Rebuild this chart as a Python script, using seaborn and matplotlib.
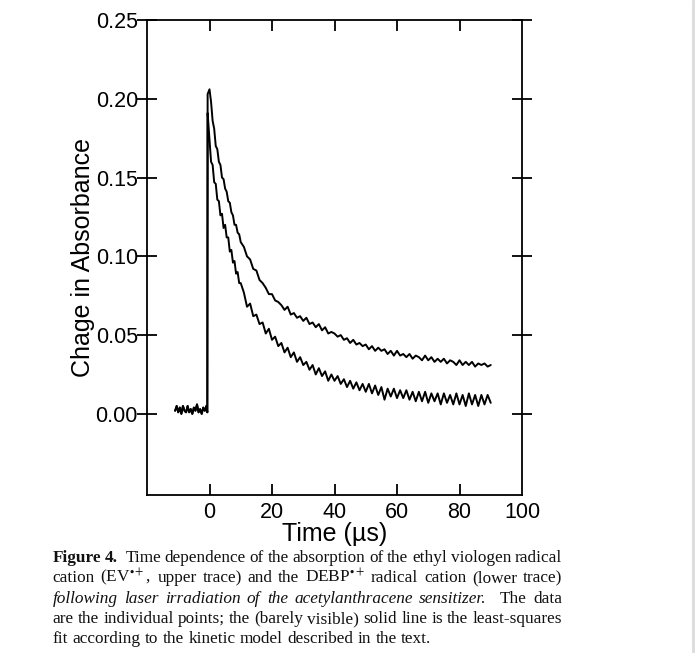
import matplotlib
matplotlib.use("Agg")
import matplotlib.pyplot as plt
import seaborn as sns
import pandas as pd

# ---------------- data ----------------
base_t = [-11.0, -10.5, -10.0, -9.5, -9.0, -8.5, -8.0, -7.5, -7.0, -6.5, -6.0,
          -5.5, -5.0, -4.5, -4.0, -3.5, -3.0, -2.5, -2.0, -1.5, -1.0, -0.7]
base_y = [0.002, 0.005, 0.001, 0.004, 0.000, 0.005, 0.002, 0.001, 0.005, 0.001, 0.003,
          0.000, 0.004, 0.002, 0.006, 0.001, 0.003, 0.000, 0.004, 0.002, 0.005, 0.001]

peak_t = [-0.6]
peak_upper = [0.203]
peak_lower = [0.191]

decay_t = [0.0, 0.5, 1.0, 1.5, 2.0, 2.5, 3.0, 3.5, 4.0, 4.5, 5.0, 5.5, 6.0, 6.5, 7.0,
           7.5, 8.0, 8.5, 9.0, 9.5, 10.0,
           11, 12, 13, 14, 15, 16, 17, 18, 19, 20,
           21, 22, 23, 24, 25, 26, 27, 28, 29, 30,
           31, 32, 33, 34, 35, 36, 37, 38, 39, 40,
           41, 42, 43, 44, 45, 46, 47, 48, 49, 50,
           51, 52, 53, 54, 55, 56, 57, 58, 59, 60,
           61, 62, 63, 64, 65, 66, 67, 68, 69, 70,
           71, 72, 73, 74, 75, 76, 77, 78, 79, 80,
           81, 82, 83, 84, 85, 86, 87, 88, 89, 90]

# EV radical cation (upper trace)
upper_decay = [0.206, 0.198, 0.186, 0.181, 0.170, 0.168, 0.160, 0.158, 0.150, 0.149,
               0.143, 0.141, 0.135, 0.134, 0.128, 0.126, 0.120, 0.120, 0.115, 0.114, 0.109,
               0.106, 0.100, 0.098, 0.092, 0.091, 0.085, 0.083, 0.080, 0.076, 0.076,
               0.072, 0.071, 0.069, 0.066, 0.068, 0.063, 0.064, 0.061, 0.062, 0.059,
               0.061, 0.057, 0.058, 0.055, 0.057, 0.053, 0.055, 0.051, 0.052, 0.051,
               0.049, 0.050, 0.047, 0.048, 0.045, 0.047, 0.044, 0.045, 0.043, 0.044,
               0.041, 0.043, 0.040, 0.042, 0.040, 0.041, 0.038, 0.040, 0.037, 0.040,
               0.037, 0.038, 0.036, 0.038, 0.035, 0.037, 0.036, 0.034, 0.037, 0.034,
               0.036, 0.033, 0.035, 0.033, 0.035, 0.032, 0.034, 0.033, 0.031, 0.034,
               0.031, 0.033, 0.031, 0.033, 0.030, 0.032, 0.031, 0.032, 0.030, 0.031]

# DEBP radical cation (lower trace)
lower_decay = [0.174, 0.160, 0.158, 0.147, 0.146, 0.136, 0.135, 0.126, 0.127, 0.118,
               0.120, 0.112, 0.112, 0.103, 0.104, 0.096, 0.097, 0.089, 0.090, 0.083, 0.083,
               0.077, 0.068, 0.070, 0.062, 0.063, 0.057, 0.058, 0.051, 0.054, 0.047,
               0.049, 0.043, 0.045, 0.039, 0.042, 0.036, 0.039, 0.033, 0.036, 0.031,
               0.033, 0.028, 0.031, 0.025, 0.029, 0.024, 0.027, 0.021, 0.025, 0.021,
               0.024, 0.019, 0.022, 0.017, 0.021, 0.016, 0.020, 0.015, 0.019, 0.014,
               0.019, 0.013, 0.018, 0.012, 0.017, 0.009, 0.016, 0.011, 0.016, 0.010,
               0.015, 0.010, 0.015, 0.009, 0.014, 0.008, 0.014, 0.008, 0.014, 0.007,
               0.013, 0.008, 0.013, 0.006, 0.013, 0.007, 0.012, 0.006, 0.013, 0.006,
               0.012, 0.005, 0.013, 0.006, 0.012, 0.005, 0.012, 0.006, 0.012, 0.007]

x_ticks = [0, 20, 40, 60, 80, 100]
y_ticks = [0.00, 0.05, 0.10, 0.15, 0.20, 0.25]
x_label = "Time (\u00b5s)"
y_label = "Chage in Absorbance"

caption_lines = [
    [("Figure", "bold", "normal"), ("4.", "bold", "normal"), ("", "normal", "normal"),
     ("Time", "normal", "normal"), ("dependence", "normal", "normal"), ("of", "normal", "normal"),
     ("the", "normal", "normal"), ("absorption", "normal", "normal"), ("of", "normal", "normal"),
     ("the", "normal", "normal"), ("ethyl", "normal", "normal"), ("viologen", "normal", "normal"),
     ("radical", "normal", "normal")],
    [(w, "normal", "normal") for w in
     ["cation", r"(EV$^{\bullet+}$,", "upper", "trace)", "and", "the", r"DEBP$^{\bullet+}$",
      "radical", "cation", "(lower", "trace)"]],
    [(w, "normal", "italic") for w in
     ["following", "laser", "irradiation", "of", "the", "acetylanthracene", "sensitizer."]]
    + [("", "normal", "normal"), ("The", "normal", "normal"), ("data", "normal", "normal")],
    [(w, "normal", "normal") for w in
     ["are", "the", "individual", "points;", "the", "(barely", "visible)", "solid", "line",
      "is", "the", "least-squares"]],
    [(w, "normal", "normal") for w in
     ["fit", "according", "to", "the", "kinetic", "model", "described", "in", "the", "text."]],
]

# ---------------- build table ----------------
rows = []
for t, y in zip(base_t + peak_t + decay_t, base_y + peak_upper + upper_decay):
    rows.append(("EV", t, y))
for t, y in zip(base_t + peak_t + decay_t, base_y + peak_lower + lower_decay):
    rows.append(("DEBP", t, y))
df = pd.DataFrame(rows, columns=["trace", "time", "absorbance"])

# ---------------- figure ----------------
sns.set_theme(style="ticks")
plt.rcParams["font.family"] = ["Liberation Sans", "DejaVu Sans"]
plt.rcParams["mathtext.fontset"] = "stix"

W, H = 700, 653
fig = plt.figure(figsize=(W / 100, H / 100), dpi=100)
fig.patch.set_facecolor("white")
ax = fig.add_axes([147 / W, 1 - 495 / H, (522 - 147) / W, (495 - 20) / H])
ax.set_facecolor("white")

sns.lineplot(data=df, x="time", y="absorbance", hue="trace", units="trace",
             estimator=None, sort=False, palette={"EV": "black", "DEBP": "black"},
             linewidth=1.4, legend=False, ax=ax)

ax.set_xlim(-20, 100)
ax.set_ylim(-0.0515, 0.25)
ax.set_xticks(x_ticks)
ax.set_xticklabels([str(v) for v in x_ticks])
ax.set_yticks(y_ticks)
ax.set_yticklabels([f"{v:.2f}" for v in y_ticks])

for s in ax.spines.values():
    s.set_visible(True)
    s.set_color("black")
    s.set_linewidth(1.3)

ax.tick_params(axis="x", which="both", direction="in", length=8, width=1.3,
               top=True, bottom=True, labelsize=15.5, pad=5, colors="black")
ax.tick_params(axis="y", which="both", direction="inout", length=14, width=1.3,
               left=True, right=True, labelsize=15.5, pad=-0.5, colors="black")
for t in ax.xaxis.get_major_ticks():
    if t.get_loc() == 100:
        t.tick1line.set_visible(False)
        t.tick2line.set_visible(False)

ax.set_xlabel(x_label, fontsize=18, labelpad=-0.5, color="black")
ax.set_ylabel(y_label, fontsize=18, labelpad=0.5, color="black")
ax.grid(False)

# faint scan edge on the right
fig.add_artist(plt.Line2D([693 / W, 693 / W], [0, 1], transform=fig.transFigure,
                          color="#dcdcdc", lw=2))

# ---------------- caption (justified) ----------------
renderer = fig.canvas.get_renderer()
serif = ["Liberation Serif", "DejaVu Serif"]
x0, x1 = 52.5, 562.0
baselines = [562, 582.3, 602.6, 622.9, 643.2]


def line_width(tokens, fs, sp):
    total = 0.0
    for txt, wgt, sty in tokens:
        if txt:
            o = fig.text(0, 0, txt, fontsize=fs, family=serif, weight=wgt, style=sty)
            total += o.get_window_extent(renderer).width
            o.remove()
    return total + sp * (len(tokens) - 1)


def space_width(fs):
    a = fig.text(0, 0, "a a", fontsize=fs, family=serif)
    b = fig.text(0, 0, "aa", fontsize=fs, family=serif)
    w = a.get_window_extent(renderer).width - b.get_window_extent(renderer).width
    a.remove()
    b.remove()
    return w


# font size: last line ends where it does in the reference, and no justified line overflows
sp10 = space_width(10)
fs_last = 10 * (453 - x0) / line_width(caption_lines[-1], 10, sp10)
fs_full = min(10 * (x1 - x0) / line_width(l, 10, sp10 * 0.9) for l in caption_lines[:-1])
fs = min(fs_last, fs_full)
sp = space_width(fs)

for i, (tokens, yb) in enumerate(zip(caption_lines, baselines)):
    objs = [fig.text(0, 0, txt, fontsize=fs, family=serif, weight=wgt, style=sty,
                     ha="left", va="baseline", color="#111111")
            for txt, wgt, sty in tokens]
    widths = [o.get_window_extent(renderer).width if o.get_text() else 0 for o in objs]
    if i == len(caption_lines) - 1:
        gap = sp
    else:
        gap = (x1 - x0 - sum(widths)) / (len(objs) - 1)
    x = x0
    for o, w in zip(objs, widths):
        o.set_position((x / W, 1 - yb / H))
        x += w + gap

fig.savefig("out.png", dpi=100, facecolor="white")
